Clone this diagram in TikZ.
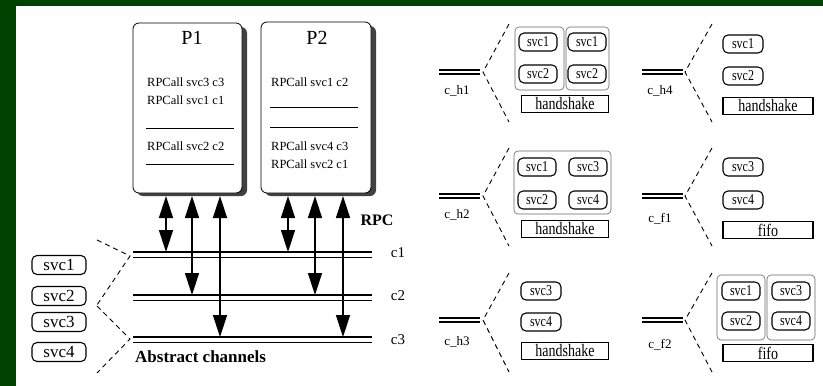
\documentclass[tikz,border=0pt]{standalone}
\usepackage{fontspec}
\setmainfont{Liberation Serif}
\newfontfamily\narrowf[FakeStretch=0.8]{Liberation Serif}
\usetikzlibrary{arrows.meta}
\definecolor{bggreen}{RGB}{0,66,0}
\tikzset{
  svcbox/.style={draw, rounded corners=5pt, line width=1.1pt, minimum width=38pt, minimum height=18pt, inner sep=0pt, font=\narrowf\fontsize{15}{15}\selectfont},
  bigsvc/.style={svcbox, minimum width=54pt, minimum height=19pt, font=\fontsize{17}{17}\selectfont},
  protobox/.style={draw, line width=1.1pt, minimum width=87pt, minimum height=17pt, inner sep=0pt, font=\narrowf\fontsize{17.5}{17.5}\selectfont},
  grpbox/.style={draw=black!60, rounded corners=4pt, line width=0.6pt},
  wedgeline/.style={dash pattern=on 5pt off 4pt, line width=0.9pt},
  rpcarrow/.style={line width=1.5pt, {Triangle[length=22pt,width=14pt]}-{Triangle[length=22pt,width=14pt]}},
  calltext/.style={anchor=west, inner sep=0pt, font=\fontsize{12.5}{12.5}\selectfont},
  chlabel/.style={inner sep=0pt, font=\fontsize{15}{15}\selectfont},
  panlabel/.style={inner sep=0pt, font=\fontsize{13}{13}\selectfont},
  boldlabel/.style={inner sep=0pt, font=\bfseries\fontsize{16}{16}\selectfont},
  ptitle/.style={inner sep=0pt, font=\fontsize{20}{20}\selectfont},
}
\begin{document}
\begin{tikzpicture}[x=1pt,y=-1pt]
\useasboundingbox (0,0) rectangle (823,386);
\fill[bggreen] (0,0) rectangle (823,386);
\fill[white] (16,6) rectangle (823,386);

% ---------- process boxes ----------
\fill[black!75, rounded corners=6pt] (137,27) rectangle (247,196);
\draw[fill=white, line width=0.8pt, rounded corners=6pt] (133,23) rectangle (242,193);
\fill[black!75, rounded corners=6pt] (265,26) rectangle (376,196);
\draw[fill=white, line width=0.8pt, rounded corners=6pt] (261,22) rectangle (371,193);

\node[ptitle] (P1) at (192,38) {P1};
\node[ptitle] (P2) at (317,38) {P2};

\node[calltext] (p1a) at (147,82) {RPCall svc3 c3};
\node[calltext] (p1b) at (147,100) {RPCall svc1 c1};
\draw[line width=0.7pt] (146,128) -- (234,128);
\node[calltext] (p1c) at (147,146) {RPCall svc2 c2};
\draw[line width=0.9pt] (146,164) -- (234,164);

\node[calltext] (p2a) at (271,82) {RPCall svc1 c2};
\draw[line width=0.8pt] (270,107) -- (358,107);
\draw[line width=0.9pt] (270,127) -- (358,127);
\node[calltext] (p2b) at (271,146) {RPCall svc4 c3};
\node[calltext] (p2c) at (271,164) {RPCall svc2 c1};

% ---------- abstract channels ----------
\foreach \y/\n in {252/1,295/2,337/3}{
  \draw[line width=1.6pt] (133,\y) -- (372,\y);
  \draw[line width=1.0pt] (133,\y+5) -- (372,\y+5);
}
\node[chlabel] (c1) at (398,253) {c1};
\node[chlabel] (c2) at (398,296) {c2};
\node[chlabel] (c3) at (398,340) {c3};
\node[boldlabel] (rpc) at (377,220) {RPC};
\node[boldlabel, anchor=west, font=\bfseries\fontsize{17}{17}\selectfont] (abs) at (135,357) {Abstract channels};

% arrows
\coordinate (t1) at (166,196); \coordinate (b1) at (166,252);
\coordinate (t2) at (192,196); \coordinate (b2) at (192,295);
\coordinate (t3) at (220,196); \coordinate (b3) at (220,337);
\coordinate (t4) at (288,196); \coordinate (b4) at (288,252);
\coordinate (t5) at (315,196); \coordinate (b5) at (315,295);
\coordinate (t6) at (343,196); \coordinate (b6) at (343,337);
\foreach \i in {1,...,6}{ \draw[rpcarrow] (t\i) -- (b\i); }

% left services
\node[bigsvc] (ls1) at (59,265) {svc1};
\node[bigsvc] (ls2) at (59,296) {svc2};
\node[bigsvc] (ls3) at (59,322) {svc3};
\node[bigsvc] (ls4) at (59,352) {svc4};
\coordinate (lw1a) at (97,240); \coordinate (lw1t) at (130,256); \coordinate (lw1b) at (97,305);
\coordinate (lw2a) at (97,306); \coordinate (lw2t) at (130,339); \coordinate (lw2b) at (97,373);
\draw[wedgeline] (lw1a) -- (lw1t) -- (lw1b);
\draw[wedgeline] (lw2a) -- (lw2t) -- (lw2b);

% ---------- right panels ----------
% double lines
\foreach \x in {439,642}{
  \foreach \y in {70,194,318}{
    \draw[line width=1.6pt] (\x,\y) -- (\x+41,\y);
    \draw[line width=1.2pt] (\x,\y+4) -- (\x+41,\y+4);
  }
}
% wedges
\foreach \x/\tx in {509/483,712/685}{
  \foreach \a/\t/\b in {24/72/122,148/196/246,273/320/372}{
    \draw[wedgeline] (\x,\a) -- (\tx,\t) -- (\x,\b);
  }
}
% labels
\node[panlabel] (lh1) at (457,91) {c\_h1};
\node[panlabel] (lh4) at (660,91) {c\_h4};
\node[panlabel] (lh2) at (457,215) {c\_h2};
\node[panlabel] (lf1) at (660,219) {c\_f1};
\node[panlabel] (lh3) at (457,342) {c\_h3};
\node[panlabel] (lf2) at (660,345) {c\_f2};

% c_h1
\draw[grpbox] (515,27) rectangle (564,90);
\draw[grpbox] (566,27) rectangle (609,90);
\node[svcbox] (h1a) at (538,42) {svc1};
\node[svcbox] (h1b) at (538,74) {svc2};
\node[svcbox] (h1c) at (587,42) {svc1};
\node[svcbox] (h1d) at (587,74) {svc2};
\node[protobox] (h1p) at (565,104) {handshake};

% c_h4
\node[svcbox, minimum width=40pt] (h4a) at (743,44) {svc1};
\node[svcbox, minimum width=40pt] (h4b) at (743,76) {svc2};
\node[protobox, minimum width=90pt] (h4p) at (768,106) {handshake};

% c_h2
\draw[grpbox] (514,151) rectangle (611,214);
\node[svcbox] (h2a) at (537,167) {svc1};
\node[svcbox] (h2b) at (537,200) {svc2};
\node[svcbox] (h2c) at (588,167) {svc3};
\node[svcbox] (h2d) at (588,200) {svc4};
\node[protobox] (h2p) at (565,229) {handshake};

% c_f1
\node[svcbox, minimum width=40pt] (f1a) at (743,167) {svc3};
\node[svcbox, minimum width=40pt] (f1b) at (743,200) {svc4};
\node[protobox, minimum width=90pt] (f1p) at (768,230) {fifo};

% c_h3
\node[svcbox, minimum width=40pt] (h3a) at (541,291) {svc3};
\node[svcbox, minimum width=40pt] (h3b) at (541,322) {svc4};
\node[protobox] (h3p) at (565,351) {handshake};

% c_f2
\draw[grpbox] (717,275) rectangle (765,340);
\draw[grpbox] (767,275) rectangle (815,340);
\node[svcbox] (f2a) at (741,291) {svc1};
\node[svcbox] (f2b) at (741,321) {svc2};
\node[svcbox] (f2c) at (791,291) {svc3};
\node[svcbox] (f2d) at (791,321) {svc4};
\node[protobox, minimum width=90pt] (f2p) at (768,353) {fifo};
\end{tikzpicture}
\end{document}
